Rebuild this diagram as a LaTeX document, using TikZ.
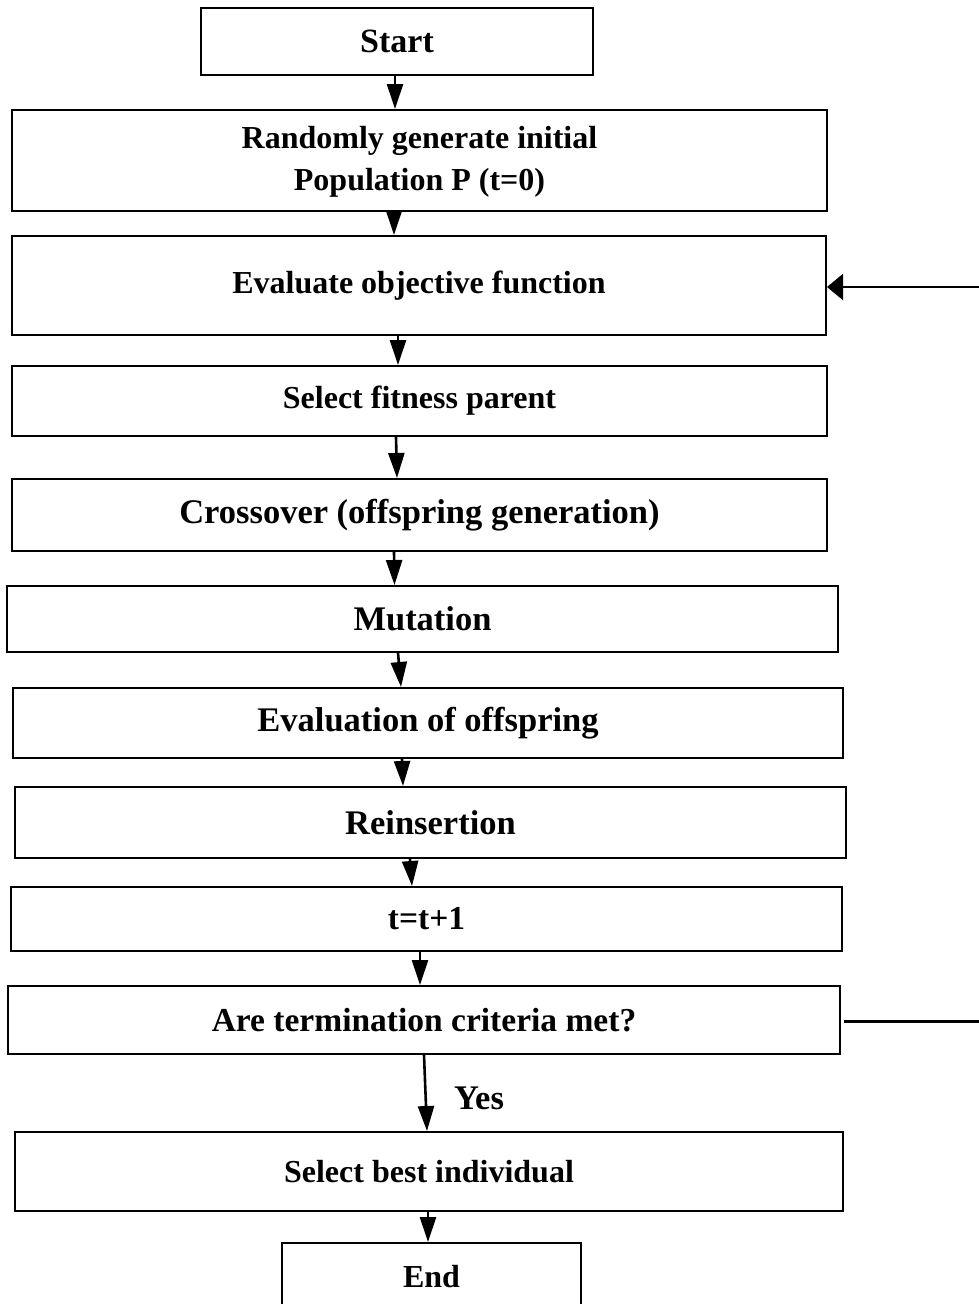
\documentclass[tikz,border=0pt]{standalone}
\usepackage{fontspec}
\setmainfont{Liberation Serif}
\usetikzlibrary{arrows.meta}
\begin{document}
\begin{tikzpicture}[x=1pt,y=-1pt,
  box/.style={draw=black, line width=2pt, inner sep=0pt, align=center, font=\bfseries\fontsize{32}{40}\selectfont},
  bigtext/.style={font=\bfseries\fontsize{34.5}{40}\selectfont},
  arr/.style={line width=2.6pt, -{Triangle[length=25pt,width=16pt]}},
  lbl/.style={inner sep=0pt, font=\bfseries\fontsize{34.5}{40}\selectfont}]
\useasboundingbox (0,0) rectangle (979,1304);
\node[box, minimum width=392pt, minimum height=67pt, font=\bfseries\fontsize{34}{40}\selectfont] (start) at (397,41.5) {Start};
\node[box, minimum width=815pt, minimum height=101pt, text depth=4pt] (rand) at (419.5,160.5) {Randomly generate initial\\[2pt] Population P (t=0)};
\node[box, minimum width=814pt, minimum height=99pt] (evalobj) at (419,285.5) {Evaluate objective function};
\node[box, minimum width=815pt, minimum height=70pt] (select) at (419.5,401) {Select fitness parent};
\node[box, bigtext, minimum width=815pt, minimum height=72pt] (cross) at (419.5,515) {Crossover (offspring generation)};
\node[box, bigtext, minimum width=831pt, minimum height=66pt] (mut) at (422.5,619) {Mutation};
\node[box, bigtext, minimum width=830pt, minimum height=70pt] (evoff) at (428,723) {Evaluation of offspring};
\node[box, bigtext, minimum width=831pt, minimum height=71pt] (reins) at (430.5,822.5) {Reinsertion};
\node[box, font=\bfseries\fontsize{33.5}{40}\selectfont, minimum width=831pt, minimum height=64pt] (tinc) at (426.5,919) {t=t+1};
\node[box, font=\bfseries\fontsize{33.5}{40}\selectfont, minimum width=832pt, minimum height=68pt] (term) at (424,1020) {Are termination criteria met?};
\node[box, minimum width=828pt, minimum height=79pt] (best) at (429,1171.5) {Select best individual};
\node[box, minimum width=299pt, minimum height=67pt] (end) at (431.5,1276.5) {End};
\node[lbl] (yes) at (479,1098) {Yes};

\draw[arr] ([xshift=-2pt]start.south) -- ([xshift=-24.5pt]rand.north);
\draw[arr] ([xshift=-25.5pt]rand.south) -- ([xshift=-25pt]evalobj.north);
\draw[arr] ([xshift=-21pt]evalobj.south) -- ([xshift=-21.5pt]select.north);
\draw[arr] ([xshift=-23.5pt]select.south) -- ([xshift=-22.5pt]cross.north);
\draw[arr] ([xshift=-25.5pt]cross.south) -- ([xshift=-28pt]mut.north);
\draw[arr] ([xshift=-24.5pt]mut.south) -- ([xshift=-27pt]evoff.north);
\draw[arr] ([xshift=-26pt]evoff.south) -- ([xshift=-27.5pt]reins.north);
\draw[arr] ([xshift=-20.5pt]reins.south) -- ([xshift=-14.5pt]tinc.north);
\draw[arr] ([xshift=-6.5pt]tinc.south) -- ([xshift=-4pt]term.north);
\draw[arr] ([xshift=0pt]term.south) -- ([xshift=-2pt]best.north);
\draw[arr] ([xshift=-1pt]best.south) -- ([xshift=-3.5pt]end.north);

\coordinate (r1) at (979,287);
\coordinate (r2) at (979,1021);
\draw[line width=2.4pt, -{Triangle[length=16pt,width=26pt]}] (r1) -- (evalobj.east |- r1);
\draw[line width=3pt, shorten <=3pt] (term.east |- r2) -- (r2);
\end{tikzpicture}
\end{document}
